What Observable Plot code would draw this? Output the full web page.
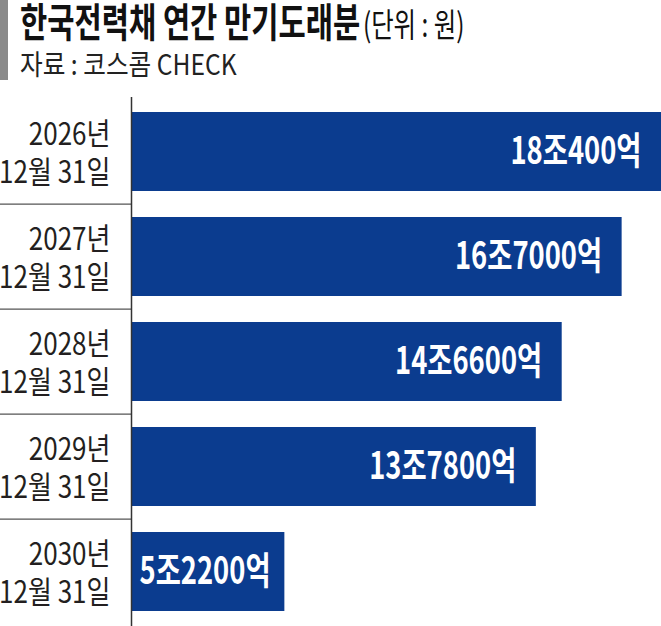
<!DOCTYPE html>
<html>
<head>
<meta charset="utf-8">
<script src="https://cdn.jsdelivr.net/npm/d3@7"></script>
<script src="https://cdn.jsdelivr.net/npm/@observablehq/plot@0.6"></script>
<style>
  html, body { margin: 0; padding: 0; background: #fff; }
  body { width: 661px; height: 626px; overflow: hidden; font-family: "Noto Sans CJK KR", sans-serif; }
  #head { position: relative; width: 661px; height: 97px; }
  #accent { position: absolute; left: 0; top: 0; width: 8px; height: 80px; background: #8a8a8a; }
  #title { position: absolute; left: 20px; top: 0px; white-space: nowrap; transform: scaleX(0.74); transform-origin: 0 0; color: #111; line-height: 1; }
  #title b { font-size: 40px; font-weight: 700; }
  #title span { font-size: 33px; font-weight: 400; }
  #sub { position: absolute; left: 20px; top: 49px; white-space: nowrap; font-size: 28px; transform: scaleX(0.88); transform-origin: 0 0; color: #222; line-height: 1; }
  #chart svg { display: block; }
</style>
</head>
<body>
<div id="head">
  <div id="accent"></div>
  <div id="title"><b>한국전력채 연간 만기도래분</b> <span>(단위 : 원)</span></div>
  <div id="sub">자료 : 코스콤 CHECK</div>
</div>
<div id="chart"></div>
<script>
const categories = ["2026년", "2027년", "2028년", "2029년", "2030년"];
const dateLabel = "12월 31일";
const values = [18.04, 16.70, 14.66, 13.78, 5.22]; // 조원
const valueLabels = ["18조400억", "16조7000억", "14조6600억", "13조7800억", "5조2200억"];

const data = categories.map((c, i) => ({cat: c, value: values[i], label: valueLabels[i]}));

const W = 661, H = 529, ML = 131;
const xMax = d3.max(values);
const unitPerPx = xMax / (W - ML);
const xLeft = -ML * unitPerPx;
const step = H / categories.length;

const plot = Plot.plot({
  width: W,
  height: H,
  marginLeft: ML,
  marginRight: 0,
  marginTop: 0,
  marginBottom: 0,
  style: {fontFamily: "'Noto Sans CJK KR', sans-serif", background: "white", overflow: "visible"},
  x: {domain: [0, xMax], axis: null},
  y: {domain: categories, paddingInner: 0.245, paddingOuter: 0.1225, axis: null, label: null},
  marks: [
    Plot.barX(data, {x: "value", y: "cat", fill: "#0b3c8f"}),
    Plot.ruleY(categories.slice(1), {x1: xLeft, x2: 0, dy: -step / 2, stroke: "#555", strokeWidth: 1.3}),
    Plot.ruleX([0], {stroke: "#333", strokeWidth: 1.5}),
    Plot.axisY({
      label: null, tickSize: 0, tickPadding: 21, fontSize: 31, lineHeight: 1.2,
      fill: "#231f20", tickFormat: d => d + "\n" + dateLabel
    }),
    Plot.text(data.filter(d => d.value > 8), {
      x: "value", y: "cat", text: "label", textAnchor: "end", dx: -20,
      fill: "white", fontSize: 38, fontWeight: "bold"
    }),
    Plot.text(data.filter(d => d.value <= 8), {
      x: 0, y: "cat", text: "label", textAnchor: "start", dx: 8,
      fill: "white", fontSize: 38, fontWeight: "bold"
    })
  ]
});

document.getElementById("chart").appendChild(plot);

// condense text horizontally like the original narrow typeface
d3.select(plot).selectAll('g[aria-label="text"] text').each(function() {
  const t = this.getAttribute("transform") || "";
  this.setAttribute("transform", t + " scale(0.72,1)");
});
d3.select(plot).selectAll('g[aria-label="y-axis tick label"] text').each(function() {
  const t = this.getAttribute("transform") || "";
  this.setAttribute("transform", t + " scale(0.84,1)");
});
</script>
</body>
</html>
